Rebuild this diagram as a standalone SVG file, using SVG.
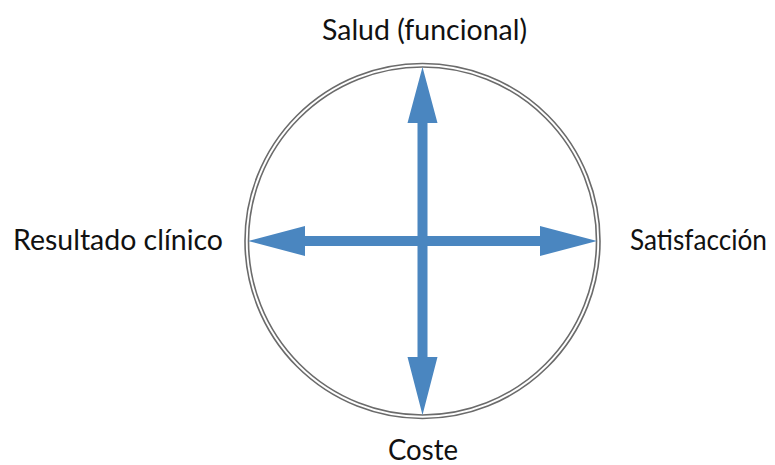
<svg xmlns="http://www.w3.org/2000/svg" width="775" height="465" viewBox="0 0 775 465">
<style>
.ring{fill:none;stroke:#6b6b6b;stroke-width:1.6}
.lbl{font-family:"Lato","Open Sans","Liberation Sans",sans-serif;font-size:28px;fill:#111}
.arr{fill:#4a86c0}
</style>
<rect width="775" height="465" fill="#fff"/>
<g id="circle">
<circle class="ring" cx="422.5" cy="241" r="177.5"/>
<circle class="ring" cx="422.5" cy="241" r="174"/>
</g>
<g id="connectors">
<path class="arr" d="M417.5 123 L417.5 241 L427.5 241 L427.5 123 L437.5 123 L422.5 67 L407.5 123 Z"/>
<path class="arr" d="M417.5 357 L417.5 241 L427.5 241 L427.5 357 L437.5 357 L422.5 415 L407.5 357 Z"/>
<path class="arr" d="M305 236 L422.5 236 L422.5 246 L305 246 L305 256 L248 241 L305 226 Z"/>
<path class="arr" d="M540 236 L422.5 236 L422.5 246 L540 246 L540 256 L597 241 L540 226 Z"/>
</g>
<g id="n-top"><text class="lbl" x="322" y="40" textLength="205" lengthAdjust="spacingAndGlyphs">Salud (funcional)</text></g>
<g id="n-left"><text class="lbl" x="13" y="249.5" textLength="210" lengthAdjust="spacingAndGlyphs">Resultado clínico</text></g>
<g id="n-right"><text class="lbl" x="630" y="249.5" textLength="137" lengthAdjust="spacingAndGlyphs">Satisfacción</text></g>
<g id="n-bottom"><text class="lbl" x="388" y="460" textLength="70" lengthAdjust="spacingAndGlyphs">Coste</text></g>
</svg>
